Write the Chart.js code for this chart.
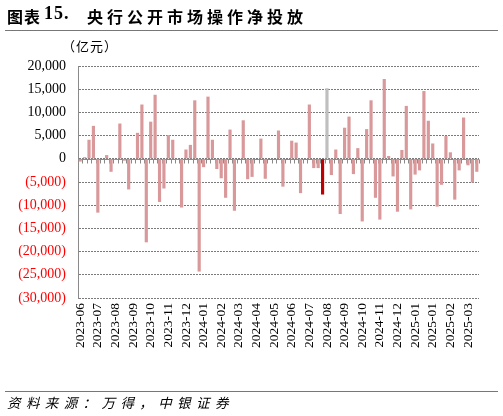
<!DOCTYPE html>
<html>
<head>
<meta charset="utf-8">
<script src="https://cdn.jsdelivr.net/npm/chart.js@4.4.1/dist/chart.umd.min.js"></script>
<style>
  body { margin: 0; background: #fff; }
  #wrap { position: relative; width: 503px; height: 416px; overflow: hidden; }
  #wrap canvas { position: absolute; left: 0; top: 0; }
  .t { position: absolute; white-space: nowrap; font-family: "Noto Sans CJK SC", sans-serif; }
  .rule { position: absolute; left: 5px; width: 493px; height: 1px; background: #777; }
</style>
</head>
<body>
<div id="wrap">
  <canvas id="chart" width="503" height="416"></canvas>
  <span class="t" style="left:7px; top:4px; font-size:16px; font-weight:bold; letter-spacing:1px;">图表</span>
  <span class="t" style="left:44px; top:3px; font-family:'Liberation Serif',serif; font-size:18px; font-weight:bold; letter-spacing:1px;">15.</span>
  <span class="t" style="left:87px; top:4px; font-size:16px; font-weight:bold; letter-spacing:4px;">央行公开市场操作净投放</span>
  <div class="rule" style="top:30px;"></div>
  <span class="t" style="left:62px; top:36px; font-size:13px; letter-spacing:1px;">（亿元）</span>
  <div class="rule" style="top:391px;"></div>
  <span class="t" style="left:7px; top:392px; font-size:13.5px; font-style:italic; letter-spacing:5.4px;">资料来源：万得，中银证券</span>
</div>
<script>
// tick labels shown every 4 weeks
const tickLabels = ['2023-06', '2023-07', '2023-08', '2023-09', '2023-10', '2023-11', '2023-12',
    '2024-01', '2024-02', '2024-03', '2024-04', '2024-05', '2024-06', '2024-07', '2024-08',
    '2024-09', '2024-10', '2024-11', '2024-12', '2025-01', '2025-01', '2025-02', '2025-03'];

// weekly net injection (亿元)
const netInjection = [
    -600, 350, 4100, 7100, -11600, 100, 800, -2800, -200, 7600,
    -400, -6600, -100, 5600, 11700, -18000, 8000, 13800, -9300, -6400,
    5100, 4100, -200, -10500, 2000, 3000, 12600, -24300, -1800, 13400,
    4100, -2200, -4200, -8400, 6300, -11200, 100, 8300, -4400, -3900,
    0, 4350, -4300, 0, 0, 6100, -6000, 0, 3900, 3500,
    -7400, 0, 11700, -2000, -2000, -7700, 15200, -3500, 2000, -11900,
    6700, 9100, -3300, 2300, -13500, 6400, 12600, -8400, -13100, 17200,
    600, -3800, -11400, 1900, 11400, -10900, -3400, -2500, 14600, 8200,
    3300, -10300, -5600, 4900, 1400, -8800, -2500, 8900, -1400, -5100,
    -2800
];

const categories = netInjection.map((v, i) => (i % 4 === 0 ? tickLabels[i / 4] : ''));

// highlighted weeks
const darkWeek = 55;
const greyWeek = 56;

const barColors = netInjection.map((v, i) => {
    if (i === darkWeek) return '#C00000';
    if (i === greyWeek) return '#BFBFBF';
    return '#D9989A';
});

// zero line with small ticks between the weeks
const zeroAxis = {
    id: 'zeroAxis',
    beforeDatasetsDraw(chart) {
        const ctx = chart.ctx;
        const x = chart.scales.x;
        const y = chart.scales.y;
        const y0 = Math.round(y.getPixelForValue(0)) + 0.5;
        ctx.save();
        ctx.strokeStyle = '#8a8a8a';
        ctx.lineWidth = 1;
        ctx.beginPath();
        ctx.moveTo(x.left, y0);
        ctx.lineTo(x.right, y0);
        for (let i = 0; i <= categories.length; i++) {
            const px = Math.round(x.getPixelForValue(i - 0.5)) + 0.5;
            ctx.moveTo(px, y0);
            ctx.lineTo(px, y0 + 4);
        }
        ctx.stroke();
        ctx.restore();
    }
};

function drawChart() {
    new Chart(document.getElementById('chart'), {
        type: 'bar',
        data: {
            labels: categories,
            datasets: [{
                data: netInjection,
                backgroundColor: barColors,
                barPercentage: 0.72,
                categoryPercentage: 1.0,
            }],
        },
        options: {
            responsive: false,
            animation: false,
            layout: { padding: { top: 66, right: 24, left: 0, bottom: 0 } },
            plugins: { legend: { display: false }, tooltip: { enabled: false } },
            scales: {
                x: {
                    offset: true,
                    grid: { display: false, drawTicks: false },
                    border: { display: false },
                    ticks: {
                        autoSkip: false,
                        minRotation: 90,
                        maxRotation: 90,
                        padding: 5,
                        color: '#000',
                        font: { family: "'Liberation Serif', serif", size: 13.5 },
                        callback: function (value, index) {
                            return categories[index];
                        }
                    },
                    afterFit: function (scale) { scale.height = 118; }
                },
                y: {
                    min: -30000,
                    max: 20000,
                    grid: { color: '#7a7a7a', lineWidth: 1, drawTicks: false },
                    border: { display: true, color: '#8a8a8a', width: 1, dash: [2, 1] },
                    ticks: {
                        stepSize: 5000,
                        padding: 12,
                        font: { family: "'Liberation Serif', serif", size: 14 },
                        color: function (c) { return c.tick.value < 0 ? '#FF0000' : '#000000'; },
                        callback: function (value) {
                            const s = Math.abs(value).toLocaleString('en-US');
                            return value < 0 ? '(' + s + ')' : s;
                        }
                    },
                    afterFit: function (scale) { scale.width = 78; }
                }
            }
        },
        plugins: [zeroAxis]
    });
}

// make sure the serif font is ready before the canvas draws text
document.fonts.load("14px 'Liberation Serif'").then(drawChart, drawChart);
</script>
</body>
</html>
